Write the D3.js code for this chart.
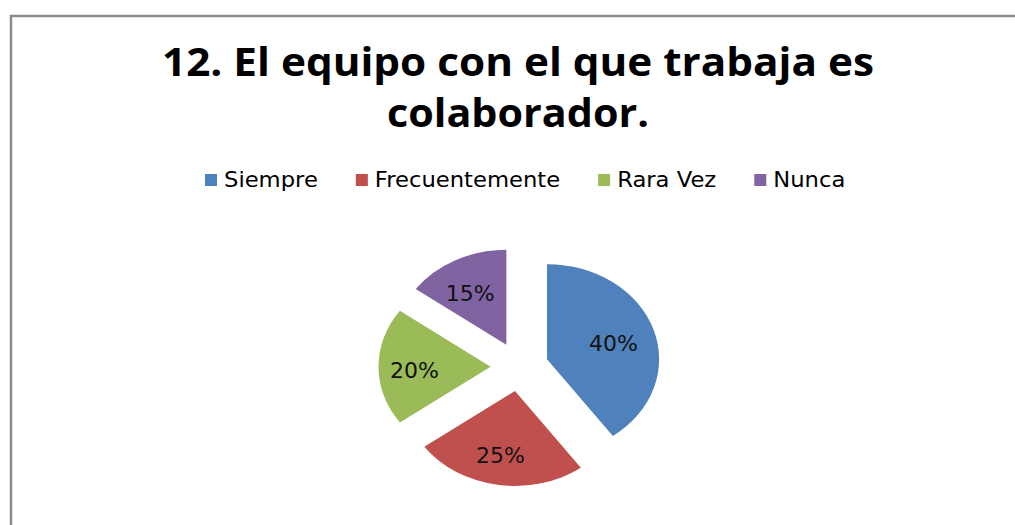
<!DOCTYPE html>
<html>
<head>
<meta charset="utf-8">
<script src="https://cdn.jsdelivr.net/npm/d3@7"></script>
<style>
  html, body { margin: 0; padding: 0; background: #fff; }
  svg { display: block; }
</style>
</head>
<body>
<div class="wrapper"></div>
<script>
// data
var categories = ["Siempre", "Frecuentemente", "Rara Vez", "Nunca"];
var values = [40, 25, 20, 15];
var colors = ["#4f81bd", "#c0504d", "#9bbb59", "#8064a2"];
var titleLines = ["12. El equipo con el que trabaja es", "colaborador."];

var width = 1015,
    height = 525;

var svg = d3.select(".wrapper").append("svg")
    .attr("width", width)
    .attr("height", height);

// chart frame (only left and top edges are visible)
svg.append("rect")
    .attr("x", 11)
    .attr("y", 16)
    .attr("width", width + 20)
    .attr("height", height + 20)
    .attr("fill", "#fff")
    .attr("stroke", "#8a8a8a")
    .attr("stroke-width", 2.5);

// title
var titleWidths = [712, 262];
svg.selectAll("text.title")
    .data(titleLines)
  .enter().append("text")
    .attr("class", "title")
    .attr("x", 518)
    .attr("y", function(d, i) { return 76 + i * 50.7; })
    .attr("text-anchor", "middle")
    .attr("textLength", function(d, i) { return titleWidths[i]; })
    .attr("lengthAdjust", "spacingAndGlyphs")
    .style("font-family", "'Open Sans', sans-serif")
    .style("font-weight", "bold")
    .style("font-size", "39px")
    .style("fill", "#000")
    .text(function(d) { return d; });

// legend
var legend = svg.append("g").attr("class", "legend");
var lx = 205;
categories.forEach(function(c, i) {
  legend.append("rect")
      .attr("x", lx)
      .attr("y", 174)
      .attr("width", 12)
      .attr("height", 12)
      .attr("fill", colors[i]);
  var t = legend.append("text")
      .attr("x", lx + 19)
      .attr("y", 187)
      .style("font-family", "'DejaVu Sans', sans-serif")
      .style("font-size", "22px")
      .style("fill", "#000")
      .text(c);
  var w = t.node().getComputedTextLength() * 1.03;
  t.attr("textLength", w).attr("lengthAdjust", "spacingAndGlyphs");
  lx += 19 + w + 38;
});

// exploded pie, drawn as a circle and stretched horizontally
var cx = 519.5, cy = 366.7,
    r = 95, stretch = 1.18, explode = 24.5, labelR = 62;

var pie = d3.pie().sort(null).value(function(d) { return d; });
var arc = d3.arc().innerRadius(0).outerRadius(r);
var arcs = pie(values);

function offset(d, dist) {
  var a = (d.startAngle + d.endAngle) / 2;
  return [Math.sin(a) * dist, -Math.cos(a) * dist];
}

var pieG = svg.append("g")
    .attr("transform", "translate(" + cx + "," + cy + ") scale(" + stretch + ",1)");

pieG.selectAll("path")
    .data(arcs)
  .enter().append("path")
    .attr("d", arc)
    .attr("fill", function(d, i) { return colors[i]; })
    .attr("transform", function(d) {
      var o = offset(d, explode);
      return "translate(" + o[0] + "," + o[1] + ")";
    });

// percentage labels (not stretched)
var total = d3.sum(values);
svg.selectAll("text.pct")
    .data(arcs)
  .enter().append("text")
    .attr("class", "pct")
    .attr("x", function(d) { return cx + offset(d, explode + labelR)[0] * stretch - 3; })
    .attr("y", function(d) { return cy + offset(d, explode + labelR)[1] + 3; })
    .attr("dy", "0.36em")
    .attr("text-anchor", "middle")
    .style("font-family", "'DejaVu Sans', sans-serif")
    .style("font-size", "22px")
    .style("fill", "#111")
    .text(function(d) { return Math.round(d.data / total * 100) + "%"; });
</script>
</body>
</html>
